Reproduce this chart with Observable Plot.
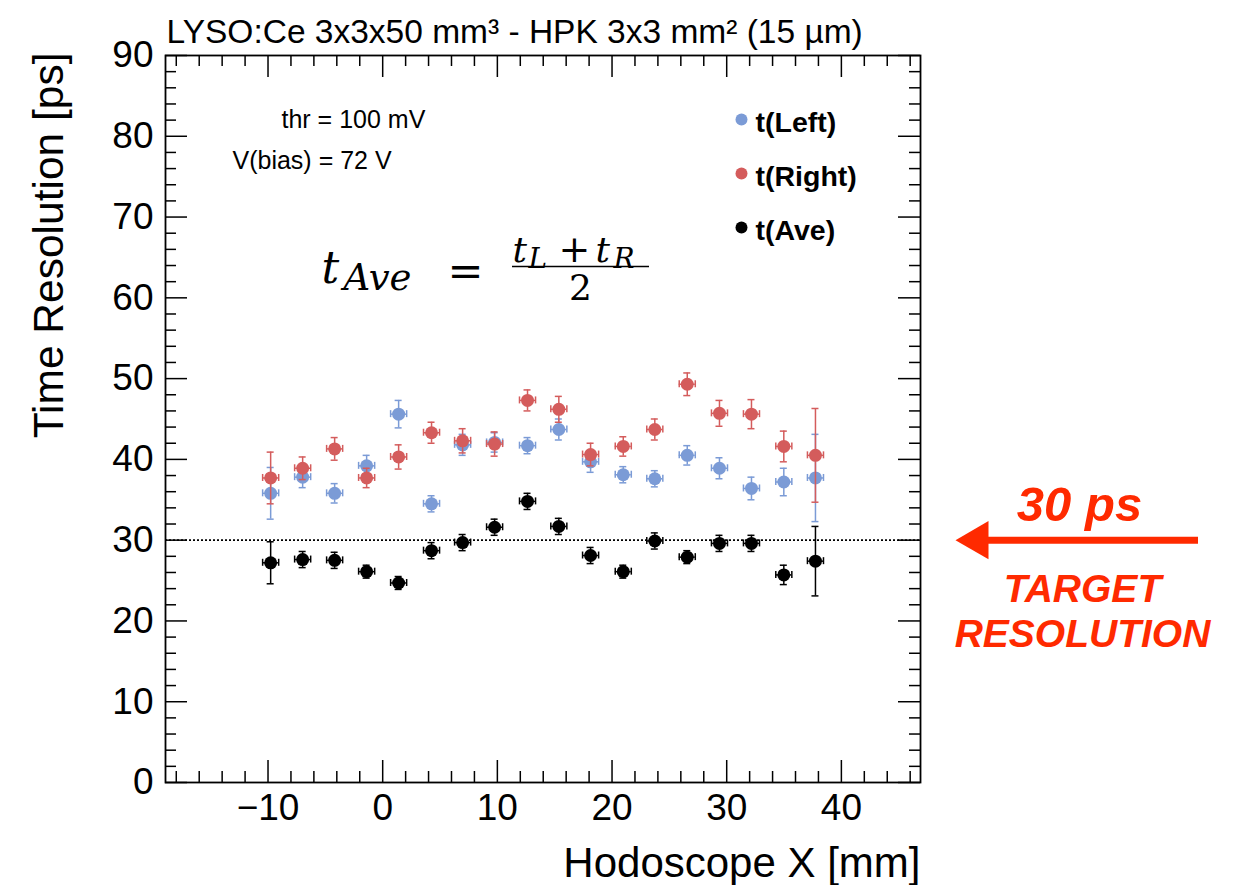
<!DOCTYPE html>
<html><head><meta charset="utf-8">
<script src="https://cdn.jsdelivr.net/npm/d3@7"></script>
<script src="https://cdn.jsdelivr.net/npm/@observablehq/plot@0.6"></script>
<style>body{margin:0;background:#fff}#chart{width:1235px;height:885px}</style>
</head><body><div id="chart"></div>
<script>
// ---- data ----
const hodoX = [-9.77, -6.98, -4.19, -1.40, 1.39, 4.26, 6.97, 9.76, 12.63, 15.36, 18.13, 20.98, 23.73, 26.56, 29.37, 32.16, 34.98, 37.74];
const tLeft     = [35.8, 37.8, 35.8, 39.2, 45.6, 34.5, 41.8, 42.1, 41.7, 43.7, 39.7, 38.1, 37.6, 40.5, 38.9, 36.4, 37.2, 37.7];
const tLeftErr  = [3.2, 1.3, 1.2, 1.3, 1.7, 1.0, 1.3, 1.2, 1.0, 1.3, 1.3, 1.0, 1.0, 1.2, 1.3, 1.4, 1.7, 5.4];
const tRight    = [37.7, 38.9, 41.3, 37.7, 40.3, 43.3, 42.3, 41.9, 47.3, 46.2, 40.6, 41.6, 43.7, 49.3, 45.7, 45.6, 41.6, 40.5];
const tRightErr = [3.2, 1.4, 1.4, 1.2, 1.5, 1.3, 1.5, 1.5, 1.3, 1.6, 1.4, 1.2, 1.3, 1.4, 1.6, 1.8, 1.9, 5.8];
const tAve      = [27.2, 27.6, 27.5, 26.1, 24.7, 28.7, 29.7, 31.6, 34.8, 31.7, 28.1, 26.1, 29.9, 27.9, 29.6, 29.6, 25.7, 27.4];
const tAveErr   = [2.6, 1.0, 1.0, 0.8, 0.8, 1.0, 1.0, 1.0, 1.0, 1.0, 1.0, 0.8, 1.0, 0.8, 1.0, 1.0, 1.2, 4.3];
const xBinHalfWidth = 0.7;
const seriesNames  = ["t(Left)", "t(Right)", "t(Ave)"];
const seriesColors = ["#7b9bd6", "#d45c5c", "#000000"];
const xMajorTicks = [-10, 0, 10, 20, 30, 40];
const yMajorTicks = [0, 10, 20, 30, 40, 50, 60, 70, 80, 90];
const xDomain = [-18.94, 46.9];
const yDomain = [0, 90];
const targetResolution = 30;
const titleText = "LYSO:Ce 3x3x50 mm³ - HPK 3x3 mm² (15 µm)";
const xLabel = "Hodoscope X [mm]";
const yLabel = "Time Resolution [ps]";
const infoLines = ["thr = 100 mV", "V(bias) = 72 V"];

// ---- layout ----
const W = 1235, H = 885, mL = 165, mR = 315, mT = 55, mB = 103;
const fw = W - mL - mR, fh = H - mT - mB;
const pxPerX = fw / (xDomain[1] - xDomain[0]);
const pxPerY = fh / (yDomain[1] - yDomain[0]);
const capX = 3.5 / pxPerX, capY = 3.5 / pxPerY;
const RED = "#ff2a00";

const series = [
  {name: seriesNames[0], color: seriesColors[0], v: tLeft, e: tLeftErr},
  {name: seriesNames[1], color: seriesColors[1], v: tRight, e: tRightErr},
  {name: seriesNames[2], color: seriesColors[2], v: tAve, e: tAveErr}
];

const xMinor = d3.range(-18, 47, 2).filter(d => d % 10 !== 0);
const yMinor = d3.range(0, 91, 2).filter(d => d % 10 !== 0);

const at = (text, px, py, o = {}) => Plot.text([text], {
  text: d => d, frameAnchor: "top-left", dx: px - mL, dy: py - mT,
  lineAnchor: "bottom", textAnchor: "start", fill: "#000",
  fontFamily: "Liberation Sans", ...o
});
const serif = {fontFamily: "DejaVu Serif", fontStyle: "italic"};
const serifUp = {fontFamily: "DejaVu Serif", fontStyle: "normal"};

const marks = [];
// target line
marks.push(Plot.ruleY([targetResolution], {y: d => d, stroke: "#000", strokeWidth: 1.7, strokeDasharray: "2,2"}));

// data
for (const s of series) {
  const rows = hodoX.map((x, i) => ({x, y: s.v[i], e: s.e[i]}));
  const st = {stroke: s.color, strokeWidth: 1.5};
  marks.push(
    Plot.ruleX(rows, {x: "x", y1: d => d.y - d.e, y2: d => d.y + d.e, ...st}),
    Plot.ruleY(rows, {y: d => d.y + d.e, x1: d => d.x - capX, x2: d => d.x + capX, ...st}),
    Plot.ruleY(rows, {y: d => d.y - d.e, x1: d => d.x - capX, x2: d => d.x + capX, ...st}),
    Plot.ruleY(rows, {y: "y", x1: d => d.x - xBinHalfWidth, x2: d => d.x + xBinHalfWidth, ...st}),
    Plot.ruleX(rows, {x: d => d.x - xBinHalfWidth, y1: d => d.y - capY, y2: d => d.y + capY, ...st}),
    Plot.ruleX(rows, {x: d => d.x + xBinHalfWidth, y1: d => d.y - capY, y2: d => d.y + capY, ...st}),
    Plot.dot(rows, {x: "x", y: "y", r: 6.5, fill: s.color, stroke: "none"})
  );
}

// ticks (inward, all four sides)
const tk = {stroke: "#000", strokeWidth: 1.5};
marks.push(
  Plot.tickX(xMinor, {x: d => d, insetTop: fh - 11, ...tk}),
  Plot.tickX(xMajorTicks, {x: d => d, insetTop: fh - 22, ...tk}),
  Plot.tickX(xMinor, {x: d => d, insetBottom: fh - 11, ...tk}),
  Plot.tickX(xMajorTicks, {x: d => d, insetBottom: fh - 22, ...tk}),
  Plot.tickY(yMinor, {y: d => d, insetRight: fw - 11, ...tk}),
  Plot.tickY(yMajorTicks, {y: d => d, insetRight: fw - 22, ...tk}),
  Plot.tickY(yMinor, {y: d => d, insetLeft: fw - 11, ...tk}),
  Plot.tickY(yMajorTicks, {y: d => d, insetLeft: fw - 22, ...tk}),
  Plot.axisX({ticks: xMajorTicks, tickSize: 0, tickPadding: 11, label: null, fontSize: 37}),
  Plot.axisY({ticks: yMajorTicks, tickSize: 0, tickPadding: 12, label: null, fontSize: 37}),
  Plot.frame({stroke: "#000", strokeWidth: 1.8})
);

// titles / labels
marks.push(
  at(titleText, 166, 42, {fontSize: 33.5}),
  Plot.text([xLabel], {text: d => d, frameAnchor: "bottom-right", dy: 94, textAnchor: "end", lineAnchor: "bottom", fontSize: 42, fontFamily: "Liberation Sans"}),
  at(yLabel, 62, 52, {rotate: -90, textAnchor: "end", fontSize: 42.5}),
  at(infoLines[0], 281, 127, {fontSize: 25}),
  at(infoLines[1], 232, 168, {fontSize: 25})
);

// legend
const legY = [119, 173, 227];
series.forEach((s, i) => {
  marks.push(
    Plot.dot([0], {frameAnchor: "top-left", dx: 741 - mL, dy: legY[i] - mT, r: 6, fill: s.color, stroke: "none"}),
    at(s.name, 755, legY[i] + 12, {fontSize: 28.5, fontWeight: "bold"})
  );
});

// formula  t_Ave = (t_L + t_R) / 2
marks.push(
  at("t", 321, 282, {...serif, fontSize: 44}),
  at("Ave", 343, 289, {...serif, fontSize: 37}),
  at("=", 465, 285, {...serifUp, fontSize: 43, textAnchor: "middle"}),
  at("t", 512, 261, {...serif, fontSize: 36}),
  at("L", 528, 267, {...serif, fontSize: 28}),
  at("+", 574, 261, {...serifUp, fontSize: 38, textAnchor: "middle"}),
  at("t", 595, 261, {...serif, fontSize: 36}),
  at("R", 613, 267, {...serif, fontSize: 28}),
  Plot.ruleY([yDomain[1]], {y: d => d, dy: 266 - mT, insetLeft: 512 - mL, insetRight: (mL + fw) - 649, stroke: "#000", strokeWidth: 1.7}),
  at("2", 580, 299, {...serifUp, fontSize: 36, textAnchor: "middle"})
);

// target annotation (outside the frame, right side)
marks.push(
  Plot.ruleY([targetResolution], {y: d => d, insetLeft: 985 - mL, insetRight: (mL + fw) - 1198, stroke: RED, strokeWidth: 7}),
  Plot.dot([targetResolution], {y: d => d, frameAnchor: "right", dx: 977 - (mL + fw), symbol: "triangle", r: 14.15, rotate: -90, fill: RED, stroke: "none"}),
  at("30 ps", 1079, 520, {fontSize: 49, fontWeight: "bold", fontStyle: "italic", fill: RED, textAnchor: "middle"}),
  at("TARGET", 1082, 601, {fontSize: 39, fontWeight: "bold", fontStyle: "italic", fill: RED, textAnchor: "middle"}),
  at("RESOLUTION", 1082, 646, {fontSize: 39, fontWeight: "bold", fontStyle: "italic", fill: RED, textAnchor: "middle"})
);

const chart = Plot.plot({
  width: W, height: H,
  marginLeft: mL, marginRight: mR, marginTop: mT, marginBottom: mB,
  x: {domain: xDomain, axis: null},
  y: {domain: yDomain, axis: null},
  style: {fontFamily: "Liberation Sans", fontSize: "36px", color: "#000", background: "#fff", overflow: "visible"},
  marks
});
document.getElementById("chart").appendChild(chart);
</script>
</body></html>
